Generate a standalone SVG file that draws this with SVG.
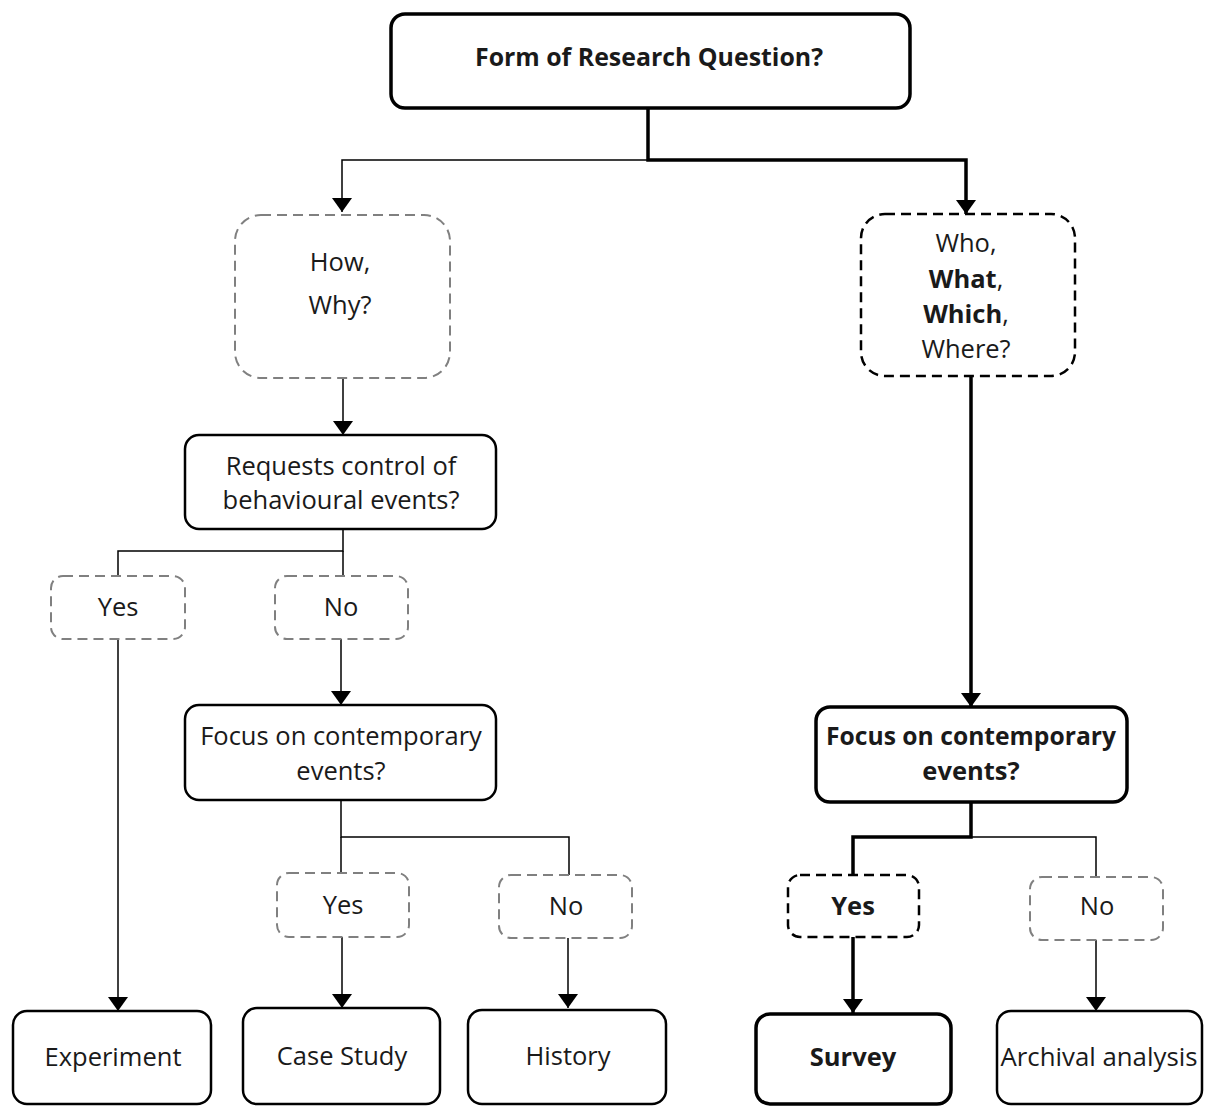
<svg xmlns="http://www.w3.org/2000/svg" width="1207" height="1106" viewBox="0 0 1207 1106">
  <defs>
    <marker id="arrow" viewBox="0 0 14 20" refX="14" refY="10" markerWidth="14" markerHeight="20" markerUnits="userSpaceOnUse" orient="auto">
      <path d="M0,0 L14,10 L0,20 z" fill="#000"/>
    </marker>
  </defs>
  <style>
    text { font-family: "Open Sans", "Liberation Sans", sans-serif; font-size: 25.5px; fill: #1a1a1a; text-anchor: middle; }
    .b { font-weight: bold; }
    .box { fill: #fff; stroke: #000; stroke-width: 2.5; }
    .thick { fill: #fff; stroke: #000; stroke-width: 3.5; }
    .dgray { fill: #fff; stroke: #808080; stroke-width: 2; stroke-dasharray: 10 6; }
    .dblack { fill: #fff; stroke: #000; stroke-width: 2.5; stroke-dasharray: 10 6; }
    .ln { fill: none; stroke: #000; stroke-width: 1.5; }
    .lnb { fill: none; stroke: #000; stroke-width: 3.5; }
  </style>

  <g id="connectors">
    <!-- top split -->
    <polyline class="ln" points="648,160 342,160 342,212" marker-end="url(#arrow)"/>
    <polyline class="lnb" points="648,108 648,160 966,160 966,214" marker-end="url(#arrow)"/>
    <!-- left branch -->
    <line class="ln" x1="343" y1="378" x2="343" y2="435" marker-end="url(#arrow)"/>
    <polyline class="ln" points="343,529 343,551 118,551 118,576"/>
    <line class="ln" x1="343" y1="551" x2="343" y2="576"/>
    <line class="ln" x1="118" y1="639" x2="118" y2="1011" marker-end="url(#arrow)"/>
    <line class="ln" x1="341" y1="639" x2="341" y2="705" marker-end="url(#arrow)"/>
    <polyline class="ln" points="341,800 341,837 569,837 569,875"/>
    <line class="ln" x1="341" y1="837" x2="341" y2="873"/>
    <line class="ln" x1="342" y1="937" x2="342" y2="1008" marker-end="url(#arrow)"/>
    <line class="ln" x1="568" y1="938" x2="568" y2="1008" marker-end="url(#arrow)"/>
    <!-- right branch -->
    <line class="lnb" x1="971" y1="376" x2="971" y2="707" marker-end="url(#arrow)"/>
    <polyline class="lnb" points="971,802 971,837 853,837 853,875"/>
    <polyline class="ln" points="971,837 1096,837 1096,877"/>
    <line class="lnb" x1="853" y1="937" x2="853" y2="1013" marker-end="url(#arrow)"/>
    <line class="ln" x1="1096" y1="940" x2="1096" y2="1011" marker-end="url(#arrow)"/>
  </g>

  <g id="n-form">
    <rect class="thick" x="391" y="14" width="519" height="94" rx="14"/>
    <text class="b" x="649" y="66" textLength="348" lengthAdjust="spacingAndGlyphs">Form of Research Question?</text>
  </g>

  <g id="n-howwhy">
    <rect class="dgray" x="235" y="215" width="215" height="163" rx="26"/>
    <text x="340" y="271">How,</text>
    <text x="340" y="314">Why?</text>
  </g>

  <g id="n-who">
    <rect class="dblack" x="861" y="214" width="214" height="162" rx="24"/>
    <text x="966" y="252">Who,</text>
    <text x="966" y="288"><tspan class="b">What</tspan>,</text>
    <text x="966" y="323"><tspan class="b">Which</tspan>,</text>
    <text x="966" y="358">Where?</text>
  </g>

  <g id="n-control">
    <rect class="box" x="185" y="435" width="311" height="94" rx="14"/>
    <text x="341" y="475">Requests control of</text>
    <text x="341" y="509">behavioural events?</text>
  </g>

  <g id="n-yes1">
    <rect class="dgray" x="51" y="576" width="134" height="63" rx="12"/>
    <text x="118" y="616">Yes</text>
  </g>

  <g id="n-no1">
    <rect class="dgray" x="275" y="576" width="133" height="63" rx="12"/>
    <text x="341" y="616">No</text>
  </g>

  <g id="n-focus-left">
    <rect class="box" x="185" y="705" width="311" height="95" rx="14"/>
    <text x="341" y="745">Focus on contemporary</text>
    <text x="341" y="780">events?</text>
  </g>

  <g id="n-focus-right">
    <rect class="thick" x="816" y="707" width="311" height="95" rx="14"/>
    <text class="b" x="971" y="745" textLength="290" lengthAdjust="spacingAndGlyphs">Focus on contemporary</text>
    <text class="b" x="971" y="780">events?</text>
  </g>

  <g id="n-yes2">
    <rect class="dgray" x="277" y="873" width="132" height="64" rx="12"/>
    <text x="343" y="914">Yes</text>
  </g>

  <g id="n-no2">
    <rect class="dgray" x="499" y="875" width="133" height="63" rx="12"/>
    <text x="566" y="915">No</text>
  </g>

  <g id="n-yes3">
    <rect class="dblack" x="788" y="875" width="131" height="62" rx="12"/>
    <text class="b" x="853" y="915">Yes</text>
  </g>

  <g id="n-no3">
    <rect class="dgray" x="1030" y="877" width="133" height="63" rx="12"/>
    <text x="1097" y="915">No</text>
  </g>

  <g id="n-experiment">
    <rect class="box" x="13" y="1011" width="198" height="93" rx="14"/>
    <text x="113" y="1066">Experiment</text>
  </g>

  <g id="n-casestudy">
    <rect class="box" x="243" y="1008" width="197" height="96" rx="14"/>
    <text x="342" y="1065">Case Study</text>
  </g>

  <g id="n-history">
    <rect class="box" x="468" y="1010" width="198" height="94" rx="14"/>
    <text x="568" y="1065">History</text>
  </g>

  <g id="n-survey">
    <rect class="thick" x="756" y="1014" width="195" height="90" rx="14"/>
    <text class="b" x="853" y="1066">Survey</text>
  </g>

  <g id="n-archival">
    <rect class="box" x="997" y="1011" width="205" height="93" rx="14"/>
    <text x="1099" y="1066" textLength="197" lengthAdjust="spacingAndGlyphs">Archival analysis</text>
  </g>
</svg>
